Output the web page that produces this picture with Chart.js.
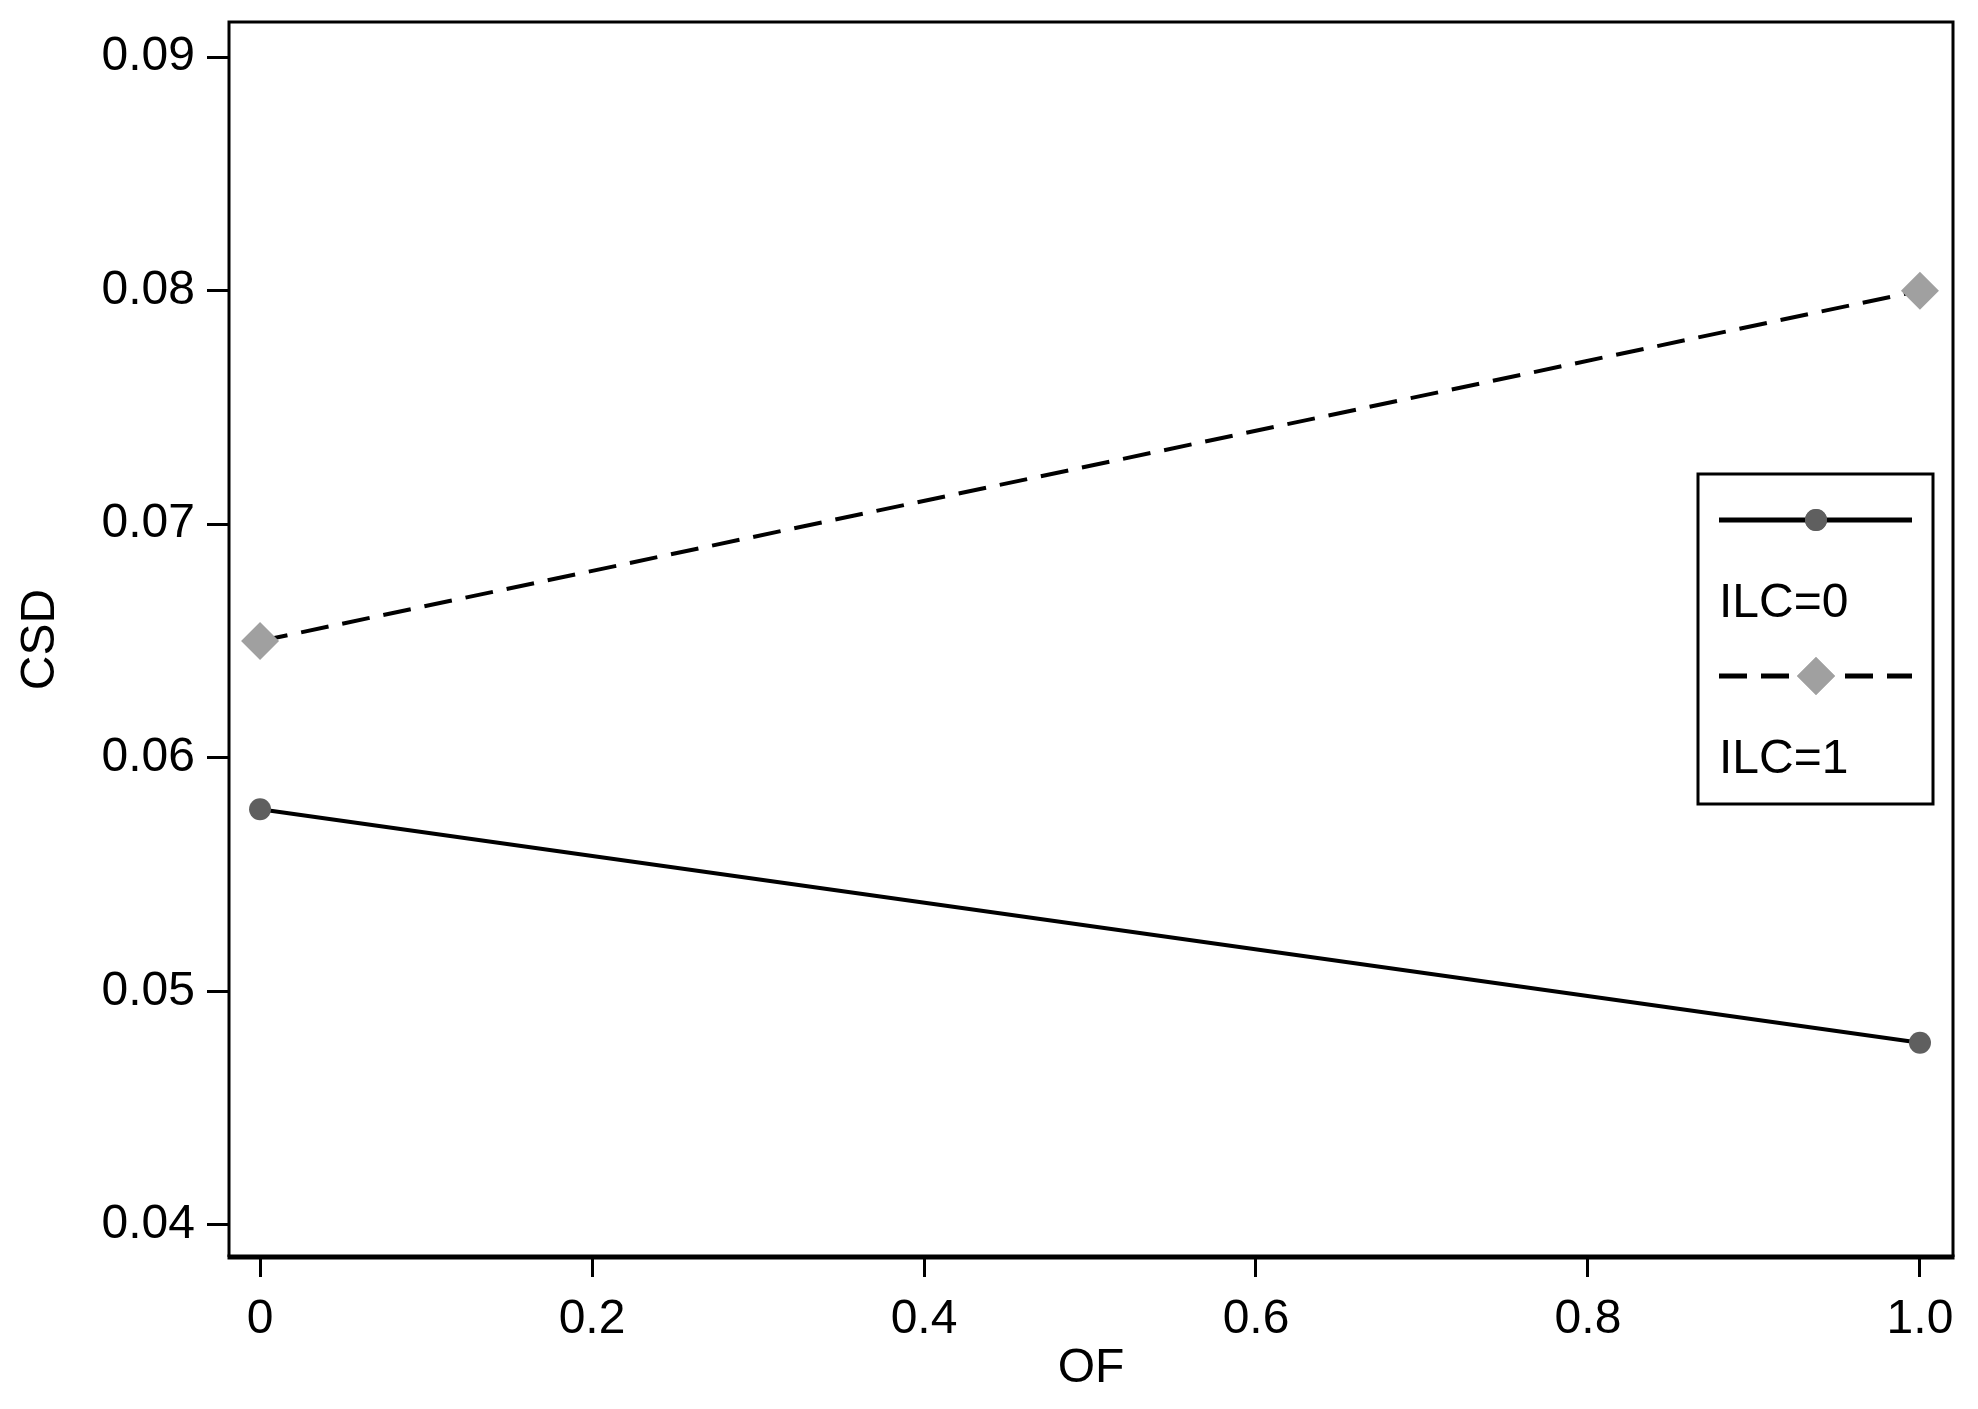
<!DOCTYPE html>
<html>
<head>
<meta charset="utf-8">
<script src="https://cdn.jsdelivr.net/npm/chart.js@4"></script>
<style>
  html, body { margin: 0; padding: 0; background: #fff; }
  #wrap { width: 1978px; height: 1409px; }
</style>
</head>
<body>
<div id="wrap"><canvas id="myChart" width="1978" height="1409"></canvas></div>
<script>
// data
const ofValues = [0, 1];
const ilc0 = [0.0578, 0.0478];
const ilc1 = [0.065, 0.08];
const seriesNames = ["ILC=0", "ILC=1"];

const yTicks = [0.04, 0.05, 0.06, 0.07, 0.08, 0.09];
const yTickLabels = ["0.04", "0.05", "0.06", "0.07", "0.08", "0.09"];
const xTicks = [0, 0.2, 0.4, 0.6, 0.8, 1.0];
const xTickLabels = ["0", "0.2", "0.4", "0.6", "0.8", "1.0"];

const fontName = "'Liberation Sans', Arial, sans-serif";
Chart.defaults.font.family = fontName;
Chart.defaults.color = "#000";

function pts(ys) {
  return ofValues.map(function (x, i) { return { x: x, y: ys[i] }; });
}

// box round the plot, bottom edge thicker
const framePlugin = {
  id: "frame",
  afterDraw(chart) {
    const a = chart.chartArea;
    const ctx = chart.ctx;
    ctx.save();
    ctx.strokeStyle = "#000";
    ctx.lineWidth = 3;
    ctx.beginPath();
    ctx.moveTo(a.left, a.bottom);
    ctx.lineTo(a.left, a.top);
    ctx.lineTo(a.right, a.top);
    ctx.lineTo(a.right, a.bottom);
    ctx.stroke();
    ctx.lineWidth = 5;
    ctx.beginPath();
    ctx.moveTo(a.left - 1.5, a.bottom);
    ctx.lineTo(a.right + 1.5, a.bottom);
    ctx.stroke();
    ctx.restore();
  },
};

// legend: sample line on top, name under it
const legendBox = {
  id: "legendBox",
  afterDraw(chart) {
    const ctx = chart.ctx;
    const ds = chart.data.datasets;
    ctx.save();
    ctx.strokeStyle = "#000";
    ctx.lineWidth = 3;
    ctx.strokeRect(1698, 474, 235, 330);
    const rows = [520, 676];
    const labelsY = [604, 760];
    ds.forEach(function (d, i) {
      ctx.lineWidth = 5;
      ctx.setLineDash(d.borderDash || []);
      ctx.beginPath();
      ctx.moveTo(1719, rows[i]);
      ctx.lineTo(1912, rows[i]);
      ctx.stroke();
      ctx.setLineDash([]);
      ctx.fillStyle = d.pointBackgroundColor;
      Chart.helpers.drawPoint(ctx, {
        pointStyle: d.pointStyle,
        radius: d.pointRadius,
        borderWidth: 0,
        rotation: 0,
      }, 1816, rows[i]);
      ctx.fill();
      ctx.fillStyle = "#000";
      ctx.font = "48px " + fontName;
      ctx.textBaseline = "middle";
      ctx.textAlign = "left";
      ctx.fillText(d.label, 1719, labelsY[i]);
    });
    ctx.restore();
  },
};

const ctx = document.getElementById("myChart");
new Chart(ctx, {
  type: "line",
  data: {
    datasets: [
      {
        label: seriesNames[0],
        data: pts(ilc0),
        borderColor: "#000",
        borderWidth: 4,
        pointStyle: "circle",
        pointRadius: 11,
        pointBackgroundColor: "#5f5f5f",
        pointBorderColor: "#5f5f5f",
        pointBorderWidth: 0,
        fill: false,
      },
      {
        label: seriesNames[1],
        data: pts(ilc1),
        borderColor: "#000",
        borderWidth: 4,
        borderDash: [28, 14],
        pointStyle: "rectRot",
        pointRadius: 19,
        pointBackgroundColor: "#a0a0a0",
        pointBorderColor: "#a0a0a0",
        pointBorderWidth: 0,
        fill: false,
      },
    ],
  },
  options: {
    responsive: false,
    animation: false,
    layout: { padding: { top: 22, right: 25, left: 0, bottom: 0 } },
    plugins: {
      legend: { display: false },
      tooltip: { enabled: false },
    },
    scales: {
      x: {
        type: "linear",
        min: -0.0187,
        max: 1.0199,
        afterFit(scale) {
          scale.height = 152;
          scale.paddingLeft = 0;
          scale.paddingRight = 0;
        },
        afterBuildTicks(scale) {
          scale.ticks = xTicks.map(function (v) { return { value: v }; });
        },
        ticks: {
          font: { size: 48 },
          padding: 14,
          maxRotation: 0,
          autoSkip: false,
          callback: function (v) {
            const i = xTicks.indexOf(v);
            return i >= 0 ? xTickLabels[i] : "";
          },
        },
        grid: {
          drawOnChartArea: false,
          drawTicks: true,
          tickLength: 20,
          tickWidth: 3,
          tickColor: "#000",
        },
        border: { display: false },
        title: {
          display: true,
          text: "OF",
          font: { size: 48, lineHeight: 1 },
          padding: { top: 0, bottom: 16 },
        },
      },
      y: {
        type: "linear",
        min: 0.03863,
        max: 0.0915,
        afterFit(scale) {
          scale.width = 229;
          scale.paddingTop = 0;
          scale.paddingBottom = 0;
        },
        afterBuildTicks(scale) {
          scale.ticks = yTicks.map(function (v) { return { value: v }; });
        },
        ticks: {
          font: { size: 48 },
          padding: 12,
          autoSkip: false,
          callback: function (v) {
            const i = yTicks.indexOf(v);
            return i >= 0 ? yTickLabels[i] : "";
          },
        },
        grid: {
          drawOnChartArea: false,
          drawTicks: true,
          tickLength: 22,
          tickWidth: 3,
          tickColor: "#000",
        },
        border: { display: false },
        title: {
          display: true,
          text: "CSD",
          font: { size: 48, lineHeight: 1 },
          padding: { top: 17, bottom: 0 },
        },
      },
    },
  },
  plugins: [framePlugin, legendBox],
});
</script>
</body>
</html>
